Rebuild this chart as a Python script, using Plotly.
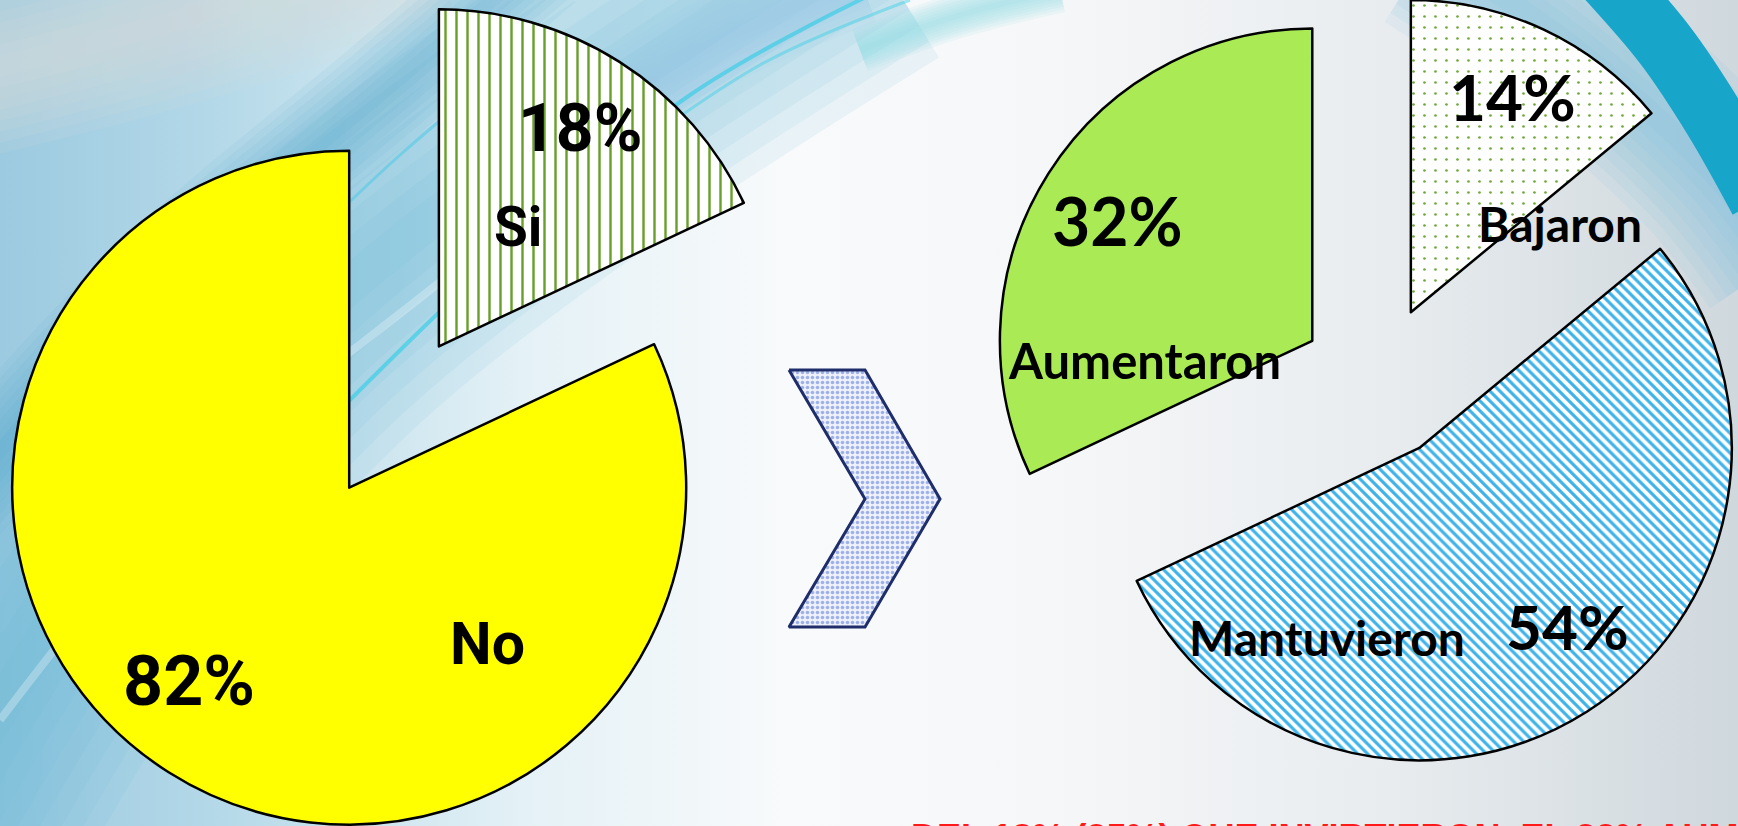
import numpy as np
import plotly.graph_objects as go

# ---------------- data ----------------
left_labels = ["Si", "No"]
left_values = [18, 82]
right_labels = ["Bajaron", "Mantuvieron", "Aumentaron"]
right_values = [14, 54, 32]
footer_text = "DEL 18% (35%) QUE INVIRTIERON, EL 32% AUMENTÓ"

W, H = 1738, 826

# ---------------- geometry / style (pixels) ----------------
LEFT = dict(cx=349.2, cy=487.7, r=337.0, pull=[167.4, 0.0])
RIGHT = dict(cx=1377.8, cy=382.4, r=312.4, pull=[77.6, 77.6, 77.6])

left_style = [
    dict(color="#ffffff", shape="|", fg="#68a02a", size=11, sol=0.22),
    dict(color="#ffff00", shape="", fg="#ffff00", size=8, sol=0.3),
]
right_style = [
    dict(color="#ffffff", shape=".", fg="#6fa83a", size=11, sol=0.045),
    dict(color="#ffffff", shape="\\", fg="#3db3ea", size=7, sol=0.45),
    dict(color="#a9ea55", shape="", fg="#a9ea55", size=8, sol=0.3),
]

# text placement: (x, y, size) for label and percent per slice
left_text = [dict(lab=(518, 227, 55), pct=(580, 129, 66)),
             dict(lab=(487, 643, 59), pct=(189, 681, 70))]
right_text = [dict(lab=(1560, 223, 48), pct=(1512, 96, 64)),
              dict(lab=(1327, 637, 48), pct=(1567, 626, 62)),
              dict(lab=(1144, 360, 49), pct=(1117, 220, 66))]

TRANSP = "rgba(0,0,0,0)"


def slice_trace(labels, values, idx, geo, styles):
    vals = np.array(values, dtype=float)
    frac = vals / vals.sum()
    start = np.concatenate([[0.0], np.cumsum(frac)[:-1]]) * 360.0
    mid = np.deg2rad(start + frac * 180.0)
    p = geo["pull"][idx]
    cx = geo["cx"] + p * np.sin(mid[idx])
    cy = geo["cy"] - p * np.cos(mid[idx])
    r = geo["r"]
    n = len(values)
    colors = [TRANSP] * n
    shapes = [""] * n
    fgs = [TRANSP] * n
    bgs = [TRANSP] * n
    sizes = [8] * n
    sols = [0.3] * n
    lcol = [TRANSP] * n
    lw = [0] * n
    s = styles[idx]
    colors[idx] = s["color"]
    shapes[idx] = s["shape"]
    fgs[idx] = s["fg"]
    bgs[idx] = s["color"]
    sizes[idx] = s["size"]
    sols[idx] = s["sol"]
    lcol[idx] = "#000000"
    lw[idx] = 2.5
    x0 = float(np.clip((cx - r) / W, 0, 1))
    x1 = float(np.clip((cx + r) / W, 0, 1))
    y0 = float(np.clip(1 - (cy + r) / H, 0, 1))
    y1 = float(np.clip(1 - (cy - r) / H, 0, 1))
    return go.Pie(
        labels=labels, values=values, sort=False, direction="clockwise",
        rotation=0, domain=dict(x=[x0, x1], y=[y0, y1]),
        marker=dict(colors=colors, line=dict(color=lcol, width=lw),
                    pattern=dict(shape=shapes, fgcolor=fgs, bgcolor=bgs,
                                 size=sizes, solidity=sols, fillmode="replace")),
        textinfo="none", hoverinfo="skip", showlegend=False,
    )


fig = go.Figure()

# ---------------- background ----------------
fig.add_trace(go.Scatter(
    x=[0, W, W, 0, 0], y=[0, 0, H, H, 0], mode="lines", fill="toself",
    line=dict(width=0),
    fillgradient=dict(type="horizontal", colorscale=[
        [0.0, "#9ccae0"], [0.12, "#b3d8e8"], [0.3, "#e4f1f6"],
        [0.45, "#f8fafb"], [0.6, "#f6f7f8"], [0.8, "#e8ecef"], [1.0, "#cfd8dd"]]),
    hoverinfo="skip", showlegend=False))


def band(pts, width, color):
    xs, ys = zip(*pts)
    fig.add_trace(go.Scatter(x=list(xs), y=list(ys), mode="lines",
                             line=dict(width=width, color=color, shape="spline"),
                             hoverinfo="skip", showlegend=False))


def soft_band(pts, width, rgb, alpha, n=8):
    for k in range(n):
        w = width * (1 - k / n)
        band(pts, w, f"rgba({rgb[0]},{rgb[1]},{rgb[2]},{alpha / n * 1.6:.3f})")


soft_band([(-100, 90), (160, 25), (430, -60)], 170, (214, 218, 222), 0.7)
soft_band([(-120, 920), (90, 570), (300, 330), (560, 125), (860, -70)], 300, (104, 182, 220), 0.5)
soft_band([(-60, 520), (150, 290), (380, 95), (540, -40)], 110, (82, 164, 208), 0.4)
soft_band([(560, 140), (720, 40), (860, -20)], 90, (150, 205, 230), 0.45)
band([(0, 720), (200, 480), (430, 290), (640, 130)], 8, "rgba(255,255,255,0.28)")
band([(330, 420), (500, 255), (690, 95), (880, -10)], 4, "rgba(40,205,230,0.6)")
band([(250, 300), (400, 155), (540, 40)], 3, "rgba(60,200,228,0.45)")
band([(600, 175), (760, 65), (910, 0)], 3, "rgba(70,210,232,0.5)")
soft_band([(860, 50), (960, 15), (1060, -10)], 45, (150, 222, 234), 0.6)
soft_band([(1430, -50), (1570, 45), (1710, 170), (1780, 260)], 170, (110, 190, 218), 0.45)
band([(1600, -30), (1665, 45), (1715, 120), (1760, 200)], 62, "#17a6c9")

# ---------------- chevron ----------------
chev_x = [789, 865, 940, 865, 789, 865, 789]
chev_y = [370, 370, 499, 627, 627, 499, 370]
fig.add_trace(go.Scatter(
    x=chev_x, y=chev_y, mode="lines", fill="toself",
    line=dict(color="#1f2e6b", width=3),
    fillcolor="#eef1fb",
    fillpattern=dict(shape=".", fgcolor="#4d6fd6", bgcolor="#eef1fb",
                     size=5, solidity=0.4),
    hoverinfo="skip", showlegend=False))

# ---------------- pies ----------------
for i in range(len(left_values)):
    fig.add_trace(slice_trace(left_labels, left_values, i, LEFT, left_style))
for i in range(len(right_values)):
    fig.add_trace(slice_trace(right_labels, right_values, i, RIGHT, right_style))

# ---------------- texts ----------------
ann = []


def add_text(txt, pos, family):
    x, y, sz = pos
    ann.append(dict(x=x / W, y=1 - y / H, xref="paper", yref="paper",
                    text=txt, showarrow=False, xanchor="center", yanchor="middle",
                    font=dict(family=family, size=sz, color="#000000", weight="bold")))


for lab, val, t in zip(left_labels, left_values, left_text):
    add_text(lab, t["lab"], "Roboto")
    add_text(f"{val}%", t["pct"], "Roboto")
for lab, val, t in zip(right_labels, right_values, right_text):
    add_text(lab, t["lab"], "Lato")
    add_text(f"{val}%", t["pct"], "Lato")

ann.append(dict(x=909 / W, y=1 - 837 / H, xref="paper", yref="paper",
                text=footer_text, showarrow=False, xanchor="left", yanchor="middle",
                font=dict(family="Liberation Sans", size=36, color="#ff1a1a",
                          weight="bold")))

fig.update_layout(
    width=W, height=H, margin=dict(l=0, r=0, t=0, b=0, pad=0),
    paper_bgcolor="#ffffff", plot_bgcolor="rgba(0,0,0,0)",
    xaxis=dict(range=[0, W], visible=False, fixedrange=True),
    yaxis=dict(range=[H, 0], visible=False, fixedrange=True),
    annotations=ann, showlegend=False,
)

fig.write_html("out.html", config={"displayModeBar": False},
               post_script="document.body.style.margin='0';document.body.style.overflow='hidden';")
